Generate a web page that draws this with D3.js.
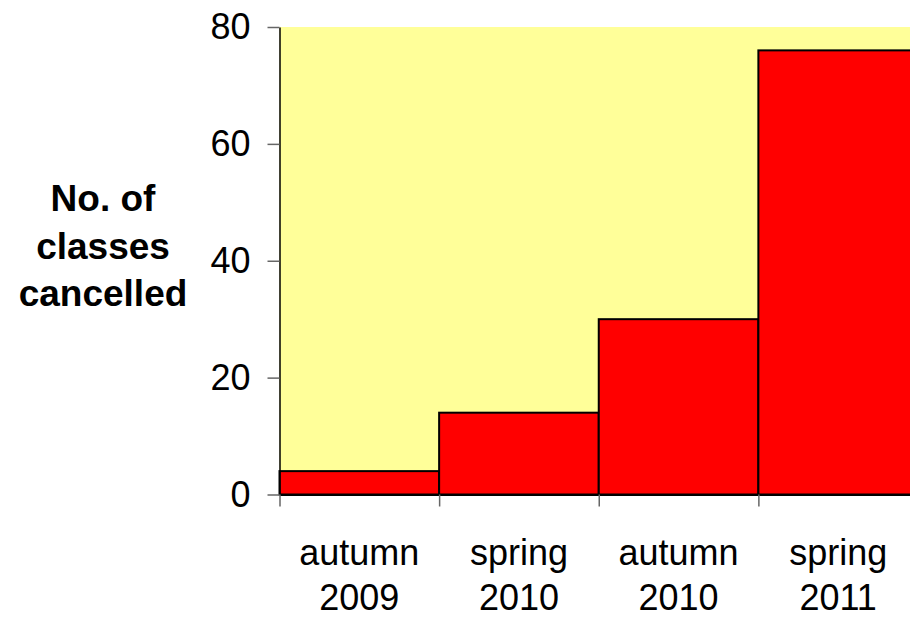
<!DOCTYPE html>
<html><head><meta charset="utf-8">
<script src="https://cdn.jsdelivr.net/npm/d3@7"></script>
<style>body{margin:0;background:#fff;overflow:hidden}svg{display:block}</style>
</head><body>
<script>
const categories = [["autumn","2009"],["spring","2010"],["autumn","2010"],["spring","2011"]];
const values = [4, 14, 30, 76];
const yTicks = [0, 20, 40, 60, 80];
const yTitle = ["No. of","classes","cancelled"];

const W = 910, H = 617;
const m = {left: 279.5, right: -8, top: 27, bottom: 122.5};
const svg = d3.select("body").append("svg").attr("width", W).attr("height", H);

const x = d3.scaleBand().domain(d3.range(categories.length)).range([m.left, W - m.right]).padding(0);
const y = d3.scaleLinear().domain([0, 80]).range([H - m.bottom, m.top]);

svg.append("rect").attr("x", m.left).attr("y", m.top)
  .attr("width", W - m.right - m.left).attr("height", y(0) - m.top).attr("fill", "#FFFF99");

svg.selectAll("rect.bar").data(values).join("rect").attr("class","bar")
  .attr("x", (d,i) => x(i)).attr("y", d => y(d))
  .attr("width", x.bandwidth()).attr("height", d => y(0) - y(d))
  .attr("fill", "#FF0000").attr("stroke", "#000").attr("stroke-width", 2);

// y axis
const ya = svg.append("g").attr("transform", `translate(${m.left},0)`)
  .call(d3.axisLeft(y).tickValues(yTicks).tickSize(12).tickPadding(17).tickSizeOuter(0));
ya.select(".domain").attr("stroke", "#000").attr("stroke-width", 1.5);
ya.selectAll(".tick line").attr("stroke", "#666").attr("stroke-width", 1.5);
ya.selectAll(".tick text").attr("font-family", "Liberation Sans, Arial, sans-serif")
  .attr("font-size", 36).attr("fill", "#000");

// x axis
const xb = d3.scaleLinear().domain([0, categories.length]).range([m.left, W - m.right]);
const xa = svg.append("g").attr("transform", `translate(0,${y(0)})`)
  .call(d3.axisBottom(xb).tickValues(d3.range(categories.length + 1)).tickSize(12).tickFormat("").tickSizeOuter(0));
xa.select(".domain").attr("stroke", "#000").attr("stroke-width", 2);
xa.selectAll(".tick line").attr("stroke", "#666").attr("stroke-width", 1.5);

const lab = svg.append("g").attr("font-family", "Liberation Sans, Arial, sans-serif")
  .attr("font-size", 36).attr("text-anchor", "middle").attr("fill", "#000");
categories.forEach((c, i) => {
  const t = lab.append("text").attr("x", x(i) + x.bandwidth() / 2).attr("y", 565);
  c.forEach((s, j) => t.append("tspan").attr("x", x(i) + x.bandwidth() / 2).attr("dy", j ? 45 : 0).text(s));
});

const tt = svg.append("text").attr("font-family", "Liberation Sans, Arial, sans-serif")
  .attr("font-size", 37).attr("font-weight", "bold").attr("text-anchor", "middle").attr("y", 211);
yTitle.forEach((s, j) => tt.append("tspan").attr("x", 103).attr("dy", j ? 47.5 : 0).text(s));
</script>
</body></html>
